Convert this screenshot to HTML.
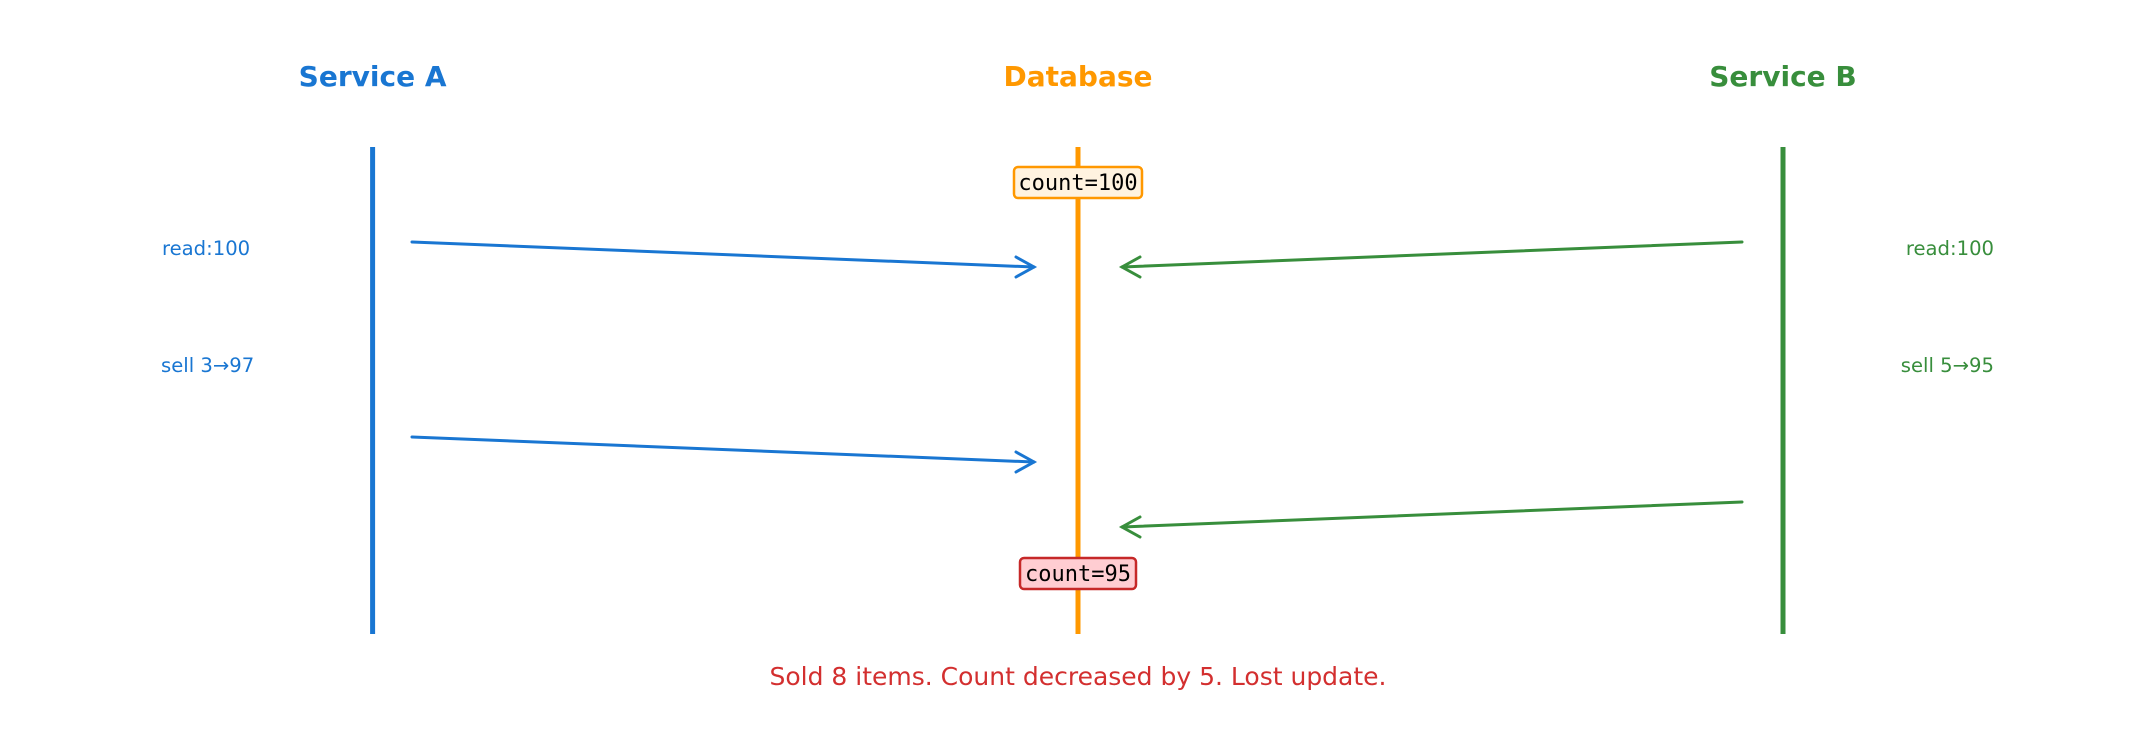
<!DOCTYPE html>
<html><head><meta charset="utf-8"><style>
html,body{margin:0;padding:0;background:#fff;}
svg{display:block;}
</style></head><body>
<svg width="2156" height="756" viewBox="0 0 2156 756" xmlns="http://www.w3.org/2000/svg" font-family="DejaVu Sans, Liberation Sans, sans-serif">
<rect width="2156" height="756" fill="#fff"/>
<g font-size="28" font-weight="bold" text-anchor="middle">
<text x="372.6" y="86" fill="#1976d2">Service A</text>
<text x="1078" y="86" fill="#ff9800">Database</text>
<text x="1783" y="86" fill="#388e3c">Service B</text>
</g>
<line x1="372.6" y1="147" x2="372.6" y2="634" stroke="#1976d2" stroke-width="5"/>
<line x1="1078" y1="147" x2="1078" y2="634" stroke="#ff9800" stroke-width="5"/>
<line x1="1783" y1="147" x2="1783" y2="634" stroke="#388e3c" stroke-width="5"/>
<g fill="none" stroke-width="3" stroke-linecap="round">
<g stroke="#1976d2">
<line x1="412" y1="242" x2="1034" y2="267"/>
<polyline points="1016,257 1034,267 1016,277"/>
<line x1="412" y1="437" x2="1034" y2="462"/>
<polyline points="1016,452 1034,462 1016,472"/>
</g>
<g stroke="#388e3c">
<line x1="1742" y1="242" x2="1122" y2="267"/>
<polyline points="1140,257 1122,267 1140,277"/>
<line x1="1742" y1="502" x2="1122" y2="527"/>
<polyline points="1140,517 1122,527 1140,537"/>
</g>
</g>
<g font-size="19.6">
<text x="162" y="255" fill="#1976d2">read:100</text>
<text x="161" y="372" fill="#1976d2">sell 3→97</text>
<text x="1994" y="255" fill="#388e3c" text-anchor="end">read:100</text>
<text x="1994" y="372" fill="#388e3c" text-anchor="end">sell 5→95</text>
</g>
<rect x="1014" y="167" width="128" height="31" rx="4" fill="#fff3e0" stroke="#ff9800" stroke-width="2.5"/>
<text x="1078" y="190" font-family="DejaVu Sans Mono, Liberation Mono, monospace" font-size="22" text-anchor="middle" fill="#000">count=100</text>
<rect x="1020" y="558" width="116" height="31" rx="4" fill="#ffcdd2" stroke="#c62828" stroke-width="2.5"/>
<text x="1078" y="581" font-family="DejaVu Sans Mono, Liberation Mono, monospace" font-size="22" text-anchor="middle" fill="#000">count=95</text>
<text x="1078" y="685" font-size="25" text-anchor="middle" fill="#d32f2f">Sold 8 items. Count decreased by 5. Lost update.</text>
</svg>
</body></html>
